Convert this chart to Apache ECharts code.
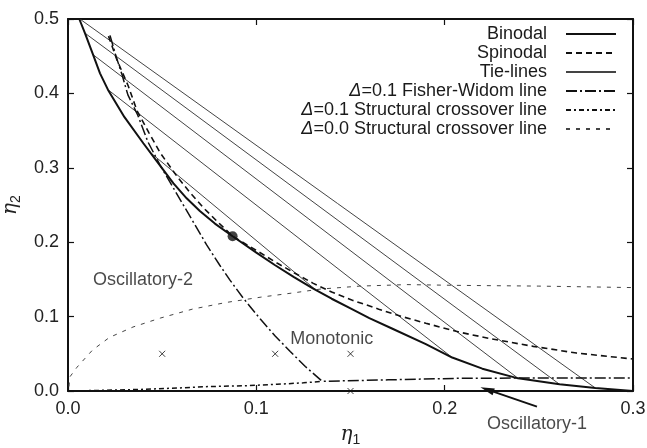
<!DOCTYPE html>
<html>
<head>
<meta charset="utf-8">
<script src="https://cdn.jsdelivr.net/npm/echarts@6/dist/echarts.min.js"></script>
<style>
html,body{margin:0;padding:0;background:#fff;}
#chart{width:647px;height:448px;}
</style>
</head>
<body>
<div id="chart"></div>
<script>
// ---- data (eta1, eta2) ----
var binodal = [[0.006,0.5],[0.009,0.481],[0.0133,0.452],[0.017,0.427],[0.0212,0.405],[0.03,0.368],[0.04,0.333],[0.048,0.306],[0.056,0.279],[0.063,0.259],[0.07,0.242],[0.078,0.225],[0.0874,0.208],[0.1,0.186],[0.11,0.169],[0.12,0.153],[0.13,0.138],[0.14,0.124],[0.15,0.111],[0.16,0.098],[0.172,0.084],[0.19,0.063],[0.204,0.045],[0.22,0.03],[0.239,0.017],[0.261,0.009],[0.28,0.004],[0.3,0.0]];
var spinodal = [[0.0215,0.477],[0.026,0.445],[0.032,0.41],[0.0366,0.377],[0.043,0.347],[0.049,0.32],[0.058,0.288],[0.065,0.266],[0.072,0.246],[0.08,0.226],[0.0874,0.208],[0.1,0.189],[0.111,0.172],[0.12,0.159],[0.13,0.145],[0.14,0.133],[0.151,0.122],[0.165,0.11],[0.176,0.101],[0.19,0.091],[0.208,0.079],[0.225,0.07],[0.247,0.06],[0.27,0.051],[0.3,0.043]];
var tieLine1 = [[0.0063,0.5],[0.280,0.004]];
var tieLine2 = [[0.009,0.481],[0.261,0.009]];
var tieLine3 = [[0.0133,0.452],[0.239,0.017]];
var tieLine4 = [[0.0212,0.405],[0.204,0.045]];
var tieLine5 = [[0.043,0.322],[0.132,0.135]];
var fisherWidom = [[0.0223,0.478],[0.0255,0.45],[0.0287,0.425],[0.0318,0.398],[0.037,0.371],[0.0424,0.335],[0.0488,0.304],[0.055,0.277],[0.061,0.251],[0.0675,0.223],[0.0737,0.196],[0.0806,0.169],[0.086,0.149],[0.093,0.125],[0.102,0.097],[0.11,0.074],[0.118,0.053],[0.126,0.033],[0.135,0.013],[0.17,0.015],[0.206,0.017],[0.25,0.0175],[0.3,0.0175]];
var structural01 = [[0.0,0.0],[0.02,0.001],[0.037,0.002],[0.058,0.004],[0.075,0.006],[0.093,0.007],[0.111,0.009],[0.125,0.011],[0.135,0.013]];
var structural00 = [[0.0005,0.006],[0.001,0.019],[0.0048,0.032],[0.013,0.055],[0.022,0.072],[0.0345,0.086],[0.049,0.098],[0.066,0.110],[0.084,0.119],[0.102,0.126],[0.12,0.132],[0.134,0.137],[0.155,0.141],[0.18,0.143],[0.206,0.142],[0.25,0.141],[0.3,0.139]];
var criticalPoint = [[0.0874,0.208]];
var crossPoints = [[0.05,0.05],[0.11,0.05],[0.15,0.05],[0.15,0.0]];
var regionLabels = [
  {name:'Oscillatory-2', value:[0.0398,0.149]},
  {name:'Monotonic', value:[0.140,0.070]},
  {name:'Oscillatory-1', value:[0.249,-0.044]}
];
var arrowFrom = [0.249,-0.021];
var arrowTo = [0.219,0.005];
var xTicks = [0, 0.3, 0.1];
var yTicks = [0, 0.5, 0.1];
var legendNames = ['Binodal','Spinodal','Tie-lines','Δ=0.1 Fisher-Widom line','Δ=0.1 Structural crossover line','Δ=0.0 Structural crossover line'];

var FONT = 'Liberation Sans, Arial, sans-serif';
var FS = 18;
var chart = echarts.init(document.getElementById('chart'), null, {renderer:'canvas'});

function axisBase(show){
  return {
    type:'value', min:0, max:0, interval:0.1,
    axisLine:{show:true, onZero:false, lineStyle:{color:'#111', width:2}},
    axisTick:{show:true, inside:true, length:6, lineStyle:{color:'#111', width:1.2}},
    splitLine:{show:false},
    axisLabel:{show:show, color:'#222', fontSize:FS, fontFamily:FONT, margin:9,
      formatter:function(v){return v.toFixed(1);}}
  };
}
var nameRich = {i:{fontFamily:'DejaVu Serif', fontStyle:'italic', fontSize:20, color:'#222'}, s:{fontSize:14, fontFamily:FONT, color:'#222', verticalAlign:'bottom', padding:[10,0,0,0]}};
var xBottom = axisBase(true); xBottom.min=xTicks[0]; xBottom.max=xTicks[1]; xBottom.interval=xTicks[2];
xBottom.position='bottom';
xBottom.name='{i|η}{s|1}'; xBottom.nameLocation='middle'; xBottom.nameGap=32;
xBottom.nameTextStyle={rich:nameRich};
var xTop = axisBase(false); xTop.min=xTicks[0]; xTop.max=xTicks[1]; xTop.interval=xTicks[2]; xTop.position='top';
var yLeft = axisBase(true); yLeft.min=yTicks[0]; yLeft.max=yTicks[1]; yLeft.interval=yTicks[2]; yLeft.position='left';
yLeft.name='{i|η}{s|2}'; yLeft.nameLocation='middle'; yLeft.nameGap=39;
yLeft.nameTextStyle={rich:nameRich};
var yRight = axisBase(false); yRight.min=yTicks[0]; yRight.max=yTicks[1]; yRight.interval=yTicks[2]; yRight.position='right';

function lineSeries(name, data, color, width, type, extra){
  var s = {
    name:name, type:'line', data:data, xAxisIndex:0, yAxisIndex:0,
    symbol:'none', showSymbol:false, clip:true, silent:true,
    lineStyle:{color:color, width:width, type:type},
    itemStyle:{color:color}
  };
  if(extra){ for(var k in extra){ s[k]=extra[k]; } }
  return s;
}

var series = [
  lineSeries('Tie-lines', tieLine1, '#444', 1, 'solid', {z:1}),
  lineSeries('Tie-lines', tieLine2, '#444', 1, 'solid', {z:1}),
  lineSeries('Tie-lines', tieLine3, '#444', 1, 'solid', {z:1}),
  lineSeries('Tie-lines', tieLine4, '#444', 1, 'solid', {z:1}),
  lineSeries('Tie-lines', tieLine5, '#444', 1, 'solid', {z:1}),
  lineSeries(legendNames[5], structural00, '#444', 1, [4,6], {z:2}),
  lineSeries(legendNames[4], structural01, '#111', 1.5, [5,3,2,3], {z:3}),
  lineSeries(legendNames[3], fisherWidom, '#111', 1.5, [11,3,2,3], {z:3}),
  lineSeries('Spinodal', spinodal, '#111', 1.6, [6,4], {z:4}),
  lineSeries('Binodal', binodal, '#111', 2, 'solid', {z:5}),
  {
    name:'critical', type:'scatter', data:criticalPoint, symbol:'circle', symbolSize:10,
    itemStyle:{color:'#111'}, z:6, silent:true
  },
  {
    name:'state points', type:'scatter', data:crossPoints, symbol:'path://M0,0L10,10M10,0L0,10', symbolSize:6,
    itemStyle:{color:'transparent', borderColor:'#111', borderWidth:1}, z:6, silent:true, clip:false
  },
  {
    name:'regions', type:'scatter', data:regionLabels, symbolSize:0, clip:false, silent:true, z:7,
    label:{show:true, position:'inside', formatter:function(p){return p.name;}, color:'#1a1a1a', fontSize:FS, fontFamily:FONT}
  }
];

var option = {
  animation:false,
  backgroundColor:'#fff',
  grid:{left:68, right:14, top:19, bottom:57, containLabel:false, outerBoundsMode:'none'},
  xAxis:[xBottom, xTop],
  yAxis:[yLeft, yRight],
  legend:{
    data:legendNames, orient:'vertical', right:25, top:20, align:'right',
    itemWidth:50, itemHeight:14, itemGap:1, selectedMode:false,
    itemStyle:{opacity:0},
    textStyle:{fontSize:FS, fontFamily:FONT, color:'#1a1a1a', padding:[0,14,0,0],
      rich:{i:{fontStyle:'italic', fontSize:FS, fontFamily:FONT, color:'#1a1a1a'}}},
    formatter:function(name){ return name.replace('Δ','{i|Δ}'); }
  },
  series:series
};
chart.setOption(option);

// arrow annotation placed through the chart's own coordinate conversion
var p0 = chart.convertToPixel({xAxisIndex:0, yAxisIndex:0}, arrowFrom);
var p1 = chart.convertToPixel({xAxisIndex:0, yAxisIndex:0}, arrowTo);
var dx = p1[0]-p0[0], dy = p1[1]-p0[1], len = Math.sqrt(dx*dx+dy*dy);
var ux = dx/len, uy = dy/len, hl = 14, hw = 3.5;
var bx = p1[0]-ux*hl, by = p1[1]-uy*hl;
chart.setOption({
  graphic:[
    {type:'line', shape:{x1:p0[0], y1:p0[1], x2:bx+ux*2, y2:by+uy*2}, style:{stroke:'#111', lineWidth:2}, z:100, silent:true},
    {type:'polygon', shape:{points:[[p1[0],p1[1]],[bx-uy*hw,by+ux*hw],[bx+uy*hw,by-ux*hw]]}, style:{fill:'#111'}, z:100, silent:true}
  ]
});
</script>
</body>
</html>
